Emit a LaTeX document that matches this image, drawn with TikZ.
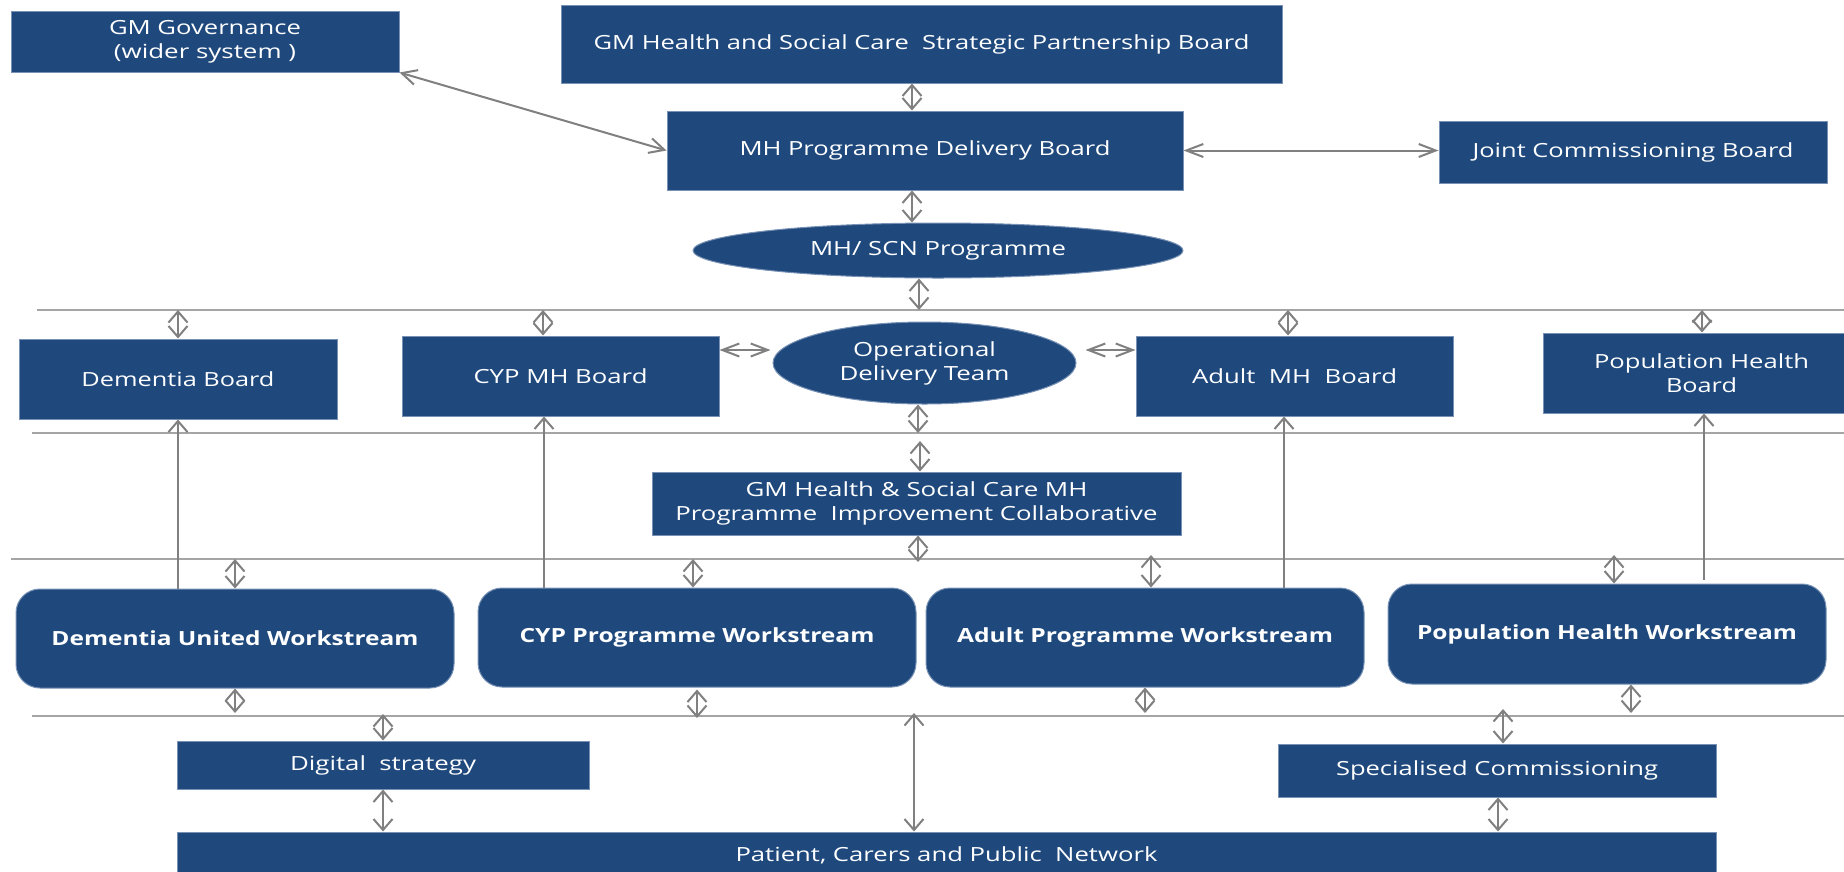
\documentclass[tikz,border=0pt]{standalone}
\usepackage{fontspec}
\setmainfont{Open Sans}
\usepackage{graphicx}
\usetikzlibrary{arrows.meta,shapes.geometric}
\definecolor{boxblue}{RGB}{31,73,125}
\definecolor{boxline}{RGB}{120,145,180}
\definecolor{arrgray}{RGB}{128,128,128}
\definecolor{linegray}{RGB}{165,165,165}
\newcommand{\fw}[2]{\resizebox{#1pt}{\height}{#2}}
\tikzset{
  box/.style={rectangle, fill=boxblue, draw=boxline, line width=1pt, text=white,
    inner sep=0pt, align=center, font=\fontsize{19.5}{24}\selectfont},
  oval/.style={box, ellipse},
  wsbox/.style={box, rounded corners=24pt, font=\fontsize{19.5}{24}\selectfont\bfseries},
  hline/.style={draw=linegray, line width=2.5pt},
  conn/.style={draw=arrgray, line width=2pt},
  vv/.style={conn, {Straight Barb[length=11pt,width=19pt]}-{Straight Barb[length=11pt,width=19pt]}},
  hh/.style={conn, {Straight Barb[length=17pt,width=13pt]}-{Straight Barb[length=17pt,width=13pt]}},
  dd/.style={conn, {Straight Barb[length=15pt,width=15pt]}-{Straight Barb[length=15pt,width=15pt]}},
  upar/.style={conn, -{Straight Barb[length=11pt,width=19pt]}},
}
\begin{document}
\begin{tikzpicture}[x=1pt,y=-1pt]
\useasboundingbox (0,0) rectangle (1844,871);
\fill[white] (0,0) rectangle (1844,871);
\clip (0,0) rectangle (1844,871);

% horizontal bus lines
\coordinate (L1s) at (37,310);   \coordinate (L1e) at (1850,310);
\coordinate (L2s) at (32,433);   \coordinate (L2e) at (1850,433);
\coordinate (L3s) at (11,559);   \coordinate (L3e) at (1850,559);
\coordinate (L4s) at (32,716);   \coordinate (L4e) at (1850,716);
\draw[hline] (L1s) -- (L1e);
\draw[hline] (L2s) -- (L2e);
\draw[hline] (L3s) -- (L3e);
\draw[hline] (L4s) -- (L4e);

% nodes
\node[box, minimum width=388, minimum height=61] (gov) at (205,41.5)
  {\fw{192}{GM Governance}\\\fw{182}{(wider system )}};
\node[box, minimum width=721, minimum height=78] (spb) at (921.5,44)
  {\fw{656}{GM Health and Social Care~ Strategic Partnership Board}};
\node[box, minimum width=516, minimum height=79] (mhd) at (925,150.5)
  {\fw{371}{MH Programme Delivery Board}};
\node[box, minimum width=388, minimum height=62] (jcb) at (1633,152)
  {\fw{321}{Joint Commissioning Board}};
\node[oval, minimum width=490, minimum height=55] (scn) at (938,250.5)
  {\fw{256}{MH/ SCN Programme}};

\node[box, minimum width=318, minimum height=80] (dboard) at (178,379)
  {\fw{193}{Dementia Board}};
\node[box, minimum width=317, minimum height=80] (cypb) at (560.5,376)
  {\fw{174}{CYP MH Board}};
\node[oval, minimum width=303, minimum height=82] (op) at (924.5,363)
  {\fw{143}{Operational}\\\fw{170}{Delivery Team}};
\node[box, minimum width=317, minimum height=80] (adb) at (1294.5,376)
  {\fw{205}{Adult~ MH~ Board}};
\node[box, minimum width=317, minimum height=80] (popb) at (1701.5,373)
  {\fw{215}{Population Health}\\\fw{71}{Board}};

\node[box, minimum width=529, minimum height=63] (imp) at (916.5,503.5)
  {\fw{342}{GM Health \& Social Care MH}\\\fw{482}{Programme~ Improvement Collaborative}};

\node[wsbox, minimum width=438, minimum height=99] (dws) at (235,638.5)
  {\fw{367}{Dementia United Workstream}};
\node[wsbox, minimum width=438, minimum height=99] (cws) at (697,637.5)
  {\fw{355}{CYP Programme Workstream}};
\node[wsbox, minimum width=438, minimum height=99] (aws) at (1145,637.5)
  {\fw{376}{Adult Programme Workstream}};
\node[wsbox, minimum width=438, minimum height=100] (pws) at (1607,634)
  {\fw{380}{Population Health Workstream}};

\node[box, minimum width=412, minimum height=48] (dig) at (383,765)
  {\fw{186}{Digital~ strategy}};
\node[box, minimum width=438, minimum height=53] (spc) at (1497,770.5)
  {\fw{322}{Specialised Commissioning}};
\node[box, minimum width=1539, minimum height=46] (pat) at (946.5,855)
  {\fw{422}{Patient, Carers and Public~ Network}};

% named coordinates for connector positions
\coordinate (c912) at (912,0);
\coordinate (c350) at (0,350);
\coordinate (l1s) at (919,310);
\coordinate (l1d) at (178,310);
\coordinate (l1c) at (543,310);
\coordinate (l1a) at (1288,310);
\coordinate (l1p) at (1702,310);
\coordinate (l2o) at (918,433);
\coordinate (l2i) at (920,441);
\coordinate (l3i) at (918,562);
\coordinate (l3d) at (235,559);
\coordinate (l3c) at (693,559);
\coordinate (l3a) at (1151,555);
\coordinate (l3p) at (1614,555);
\coordinate (ud) at (178,0);
\coordinate (uc) at (544,0);
\coordinate (ua) at (1284,0);
\coordinate (up) at (1704,0);
\coordinate (l4d) at (235,713);
\coordinate (l4c) at (697,718);
\coordinate (l4a) at (1145,713);
\coordinate (l4p) at (1631,713);
\coordinate (l4g) at (383,714);
\coordinate (l4s) at (1503,709);
\coordinate (l4m) at (914,713);
\coordinate (pd) at (383,0);
\coordinate (ps) at (1498,0);

% top connectors
\draw[dd] (gov.south east) -- (mhd.west);
\draw[vv] (spb.south -| c912) -- (mhd.north -| c912);
\draw[hh] (mhd.east) -- (mhd.east -| jcb.west);
\draw[vv] (mhd.south -| c912) -- (scn.north -| c912);
\draw[vv] (scn.south -| l1s) -- (l1s);

% line 1 to boards
\draw[vv] (l1d) -- (dboard.north -| l1d);
\draw[vv] (l1c) -- (cypb.north -| l1c);
\draw[vv] (l1a) -- (adb.north -| l1a);
\draw[vv] (l1p) -- (popb.north -| l1p);

% boards to operational team
\draw[hh] (cypb.east |- c350) -- ([xshift=-2pt]op.west |- c350);
\draw[hh] ([xshift=9pt]op.east |- c350) -- (adb.west |- c350);
\draw[vv] (op.south -| l2o) -- (l2o);
\draw[vv] (l2i) -- (imp.north -| l2i);
\draw[vv] (imp.south -| l3i) -- (l3i);

% line 3 to workstreams
\draw[vv] (l3d) -- (dws.north -| l3d);
\draw[vv] (l3c) -- (cws.north -| l3c);
\draw[vv] (l3a) -- (aws.north -| l3a);
\draw[vv] (l3p) -- (pws.north -| l3p);

% workstreams up to boards
\draw[upar] (dws.north -| ud) -- (dboard.south -| ud);
\draw[upar] (cws.north -| uc) -- (cypb.south -| uc);
\draw[upar] (aws.north -| ua) -- (adb.south -| ua);
\draw[upar] ([yshift=4pt]pws.north -| up) -- (popb.south -| up);

% workstreams to line 4
\draw[vv] (dws.south -| l4d) -- (l4d);
\draw[vv] ([yshift=-2pt]cws.south -| l4c) -- (l4c);
\draw[vv] (aws.south -| l4a) -- (l4a);
\draw[vv] (pws.south -| l4p) -- (l4p);

% line 4 to bottom boxes
\draw[vv] (l4g) -- (dig.north -| l4g);
\draw[vv] (l4s) -- (spc.north -| l4s);
\draw[vv] (dig.south -| pd) -- (pat.north -| pd);
\draw[vv] (l4m) -- (pat.north -| l4m);
\draw[vv] (spc.south -| ps) -- (pat.north -| ps);
\end{tikzpicture}
\end{document}
